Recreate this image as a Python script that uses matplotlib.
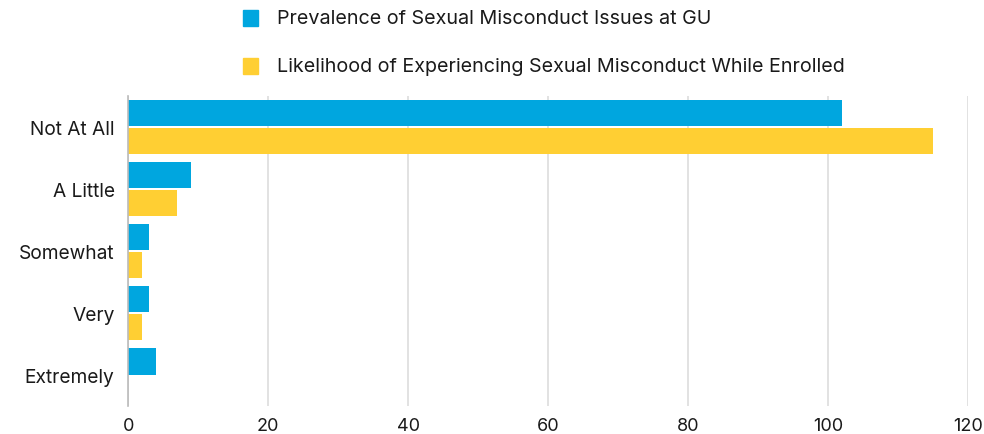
import matplotlib
matplotlib.use("Agg")
import matplotlib.pyplot as plt
import numpy as np
from matplotlib.patches import Rectangle

plt.rcParams['font.family'] = ['Inter', 'DejaVu Sans']

categories = ["Not At All", "A Little", "Somewhat", "Very", "Extremely"]
prevalence = [102, 9, 3, 3, 4]
likelihood = [115, 7, 2, 2, 0]
series_names = ["Prevalence of Sexual Misconduct Issues at GU",
                "Likelihood of Experiencing Sexual Misconduct While Enrolled"]
xticks = [0, 20, 40, 60, 80, 100, 120]

blue = "#00A6DF"
yellow = "#FFCF33"
txt = "#1A1A1A"

fig = plt.figure(figsize=(9.84, 4.35), dpi=100)
ax = fig.add_axes([0.1305, 0.064, 0.853, 0.713])

y = np.arange(len(categories))
h = 0.43
ax.barh(y - 0.225, prevalence, height=h, color=blue, zorder=3)
ax.barh(y + 0.225, likelihood, height=h, color=yellow, zorder=3)

ax.set_ylim(4.5, -0.5)
ax.set_xlim(0, 120)
ax.set_xticks(xticks)
ax.set_xticklabels([str(t) for t in xticks], fontsize=13, color=txt)
ax.set_yticks(y)
ax.set_yticklabels(categories, fontsize=13.8, color=txt)
ax.tick_params(axis='both', length=0)
ax.tick_params(axis='y', pad=10)
ax.tick_params(axis='x', pad=8)
ax.grid(axis='x', color="#DDDDDD", linewidth=1.2, zorder=0)
for s in ['top', 'right', 'bottom']:
    ax.spines[s].set_visible(False)
ax.spines['left'].set_color("#BBBBBB")
ax.spines['left'].set_linewidth(1.2)
ax.spines['left'].set_zorder(4)

# legend
for i, (name, col) in enumerate(zip(series_names, [blue, yellow])):
    yy = 1 - (19 + 48 * i) / 435
    fig.patches.append(Rectangle((243 / 984, yy - 8 / 435), 15 / 984, 16 / 435,
                                 transform=fig.transFigure, color=col, figure=fig))
    fig.text(277 / 984, yy, name, fontsize=14.2, va='center', ha='left', color=txt)

fig.savefig("out.png", dpi=100)
